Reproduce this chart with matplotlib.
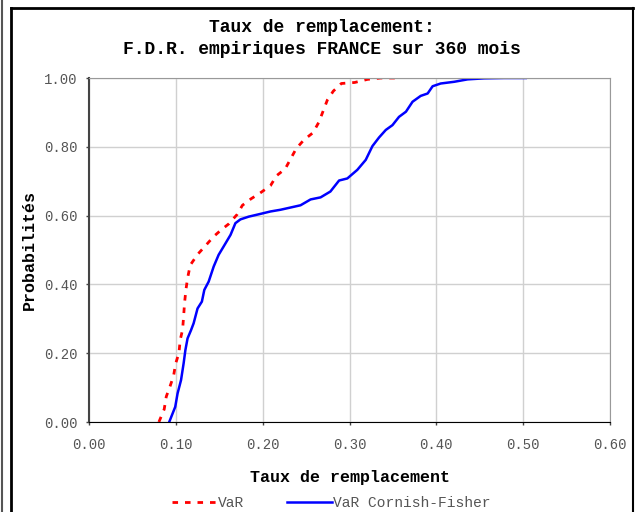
import numpy as np
import matplotlib
matplotlib.use("Agg")
import matplotlib.pyplot as plt
from matplotlib.lines import Line2D

plt.rcParams['font.family'] = ['Liberation Mono', 'DejaVu Sans Mono']

var_x = [0.0805, 0.0866, 0.089, 0.0935, 0.0974, 0.0997, 0.1036, 0.105, 0.1078, 0.109,
         0.110, 0.1116, 0.1135, 0.1166, 0.125, 0.1347, 0.1435, 0.152, 0.161, 0.1705,
         0.1767, 0.1867, 0.1967, 0.209, 0.216, 0.226, 0.232, 0.2387, 0.2475, 0.258,
         0.2648, 0.2698, 0.2745, 0.2814, 0.2906, 0.306, 0.3207, 0.336, 0.355]
var_y = [0.0, 0.037, 0.074, 0.105, 0.134, 0.169, 0.201, 0.238, 0.269, 0.308,
         0.345, 0.384, 0.418, 0.456, 0.487, 0.514, 0.539, 0.558, 0.576, 0.603,
         0.630, 0.649, 0.665, 0.687, 0.716, 0.736, 0.764, 0.795, 0.820, 0.841,
         0.872, 0.905, 0.936, 0.962, 0.984, 0.987, 0.996, 1.0, 1.0]

cf_x = [0.0924, 0.0993, 0.102, 0.106, 0.109, 0.111, 0.1135, 0.1175, 0.1205, 0.125,
        0.130, 0.1328, 0.1378, 0.1436, 0.1493, 0.155, 0.163, 0.1686, 0.1744, 0.184,
        0.1975, 0.209, 0.2206, 0.2436, 0.2552, 0.2667, 0.278, 0.288, 0.2975, 0.309,
        0.3187, 0.3264, 0.334, 0.3418, 0.3495, 0.357, 0.365, 0.3726, 0.382, 0.390,
        0.3957, 0.405, 0.4206, 0.436, 0.455, 0.478, 0.503]
cf_y = [0.0, 0.044, 0.083, 0.122, 0.171, 0.209, 0.243, 0.267, 0.287, 0.330,
        0.350, 0.384, 0.408, 0.452, 0.486, 0.510, 0.544, 0.578, 0.589, 0.597,
        0.605, 0.612, 0.617, 0.630, 0.647, 0.653, 0.670, 0.702, 0.708, 0.733,
        0.762, 0.802, 0.827, 0.849, 0.863, 0.887, 0.902, 0.931, 0.948, 0.955,
        0.976, 0.984, 0.989, 0.996, 0.999, 1.0, 1.0]

xticks = np.arange(0, 0.61, 0.1)
yticks = np.arange(0, 1.01, 0.2)

fig = plt.figure(figsize=(6.4, 5.12), dpi=100)
ax = fig.add_axes([89/640, 1-422/512, 521/640, 344/512])

ax.plot(var_x, var_y, color='red', lw=2.0, dashes=(2, 2.5), label='VaR')
ax.plot(cf_x, cf_y, color='blue', lw=1.8, label='VaR Cornish-Fisher')

ax.set_xlim(0, 0.6)
ax.set_ylim(0, 1)
ax.set_xticks(xticks)
ax.set_yticks(yticks)
ax.set_xticklabels(['%.2f' % v for v in xticks])
ax.set_yticklabels(['%.2f' % v for v in yticks])
ax.tick_params(labelsize=10, labelcolor='#555555', length=2.5, width=1, color='#444444')
ax.tick_params(axis='x', pad=9)
ax.tick_params(axis='y', pad=6)
ax.grid(True, color='#d0d0d0', lw=1)
ax.set_axisbelow(True)
ax.spines['top'].set_color('#999999')
ax.spines['right'].set_color('#999999')
ax.spines['left'].set_color('#444444')
ax.spines['left'].set_linewidth(1.5)
ax.spines['bottom'].set_color('black')

ax.set_xlabel('Taux de remplacement', fontsize=12, fontweight='bold', labelpad=13)
ax.set_ylabel('Probabilités', fontsize=12, fontweight='bold', labelpad=5)
fig.text(0.503, 1-27/512, 'Taux de remplacement:', ha='center', va='center',
         fontsize=13, fontweight='bold')
fig.text(0.503, 1-50/512, 'F.D.R. empiriques FRANCE sur 360 mois', ha='center', va='center',
         fontsize=13, fontweight='bold')

ax.legend(loc='center', bbox_to_anchor=(0.465, -0.235), ncol=2, frameon=False,
          fontsize=10.5, labelcolor='#555555', handlelength=3.1, handletextpad=0.1,
          columnspacing=2.9)

# outer frame
fig.add_artist(Line2D([11/640, 11/640], [0, 1-8/512], color='black', lw=2))
fig.add_artist(Line2D([11/640, 633/640], [1-8/512, 1-8/512], color='black', lw=2))
fig.add_artist(Line2D([633/640, 633/640], [0, 1-8/512], color='black', lw=1.5))
fig.add_artist(Line2D([1.5/640, 1.5/640], [0, 1], color='#555555', lw=1.5))

fig.savefig('out.png', dpi=100)
